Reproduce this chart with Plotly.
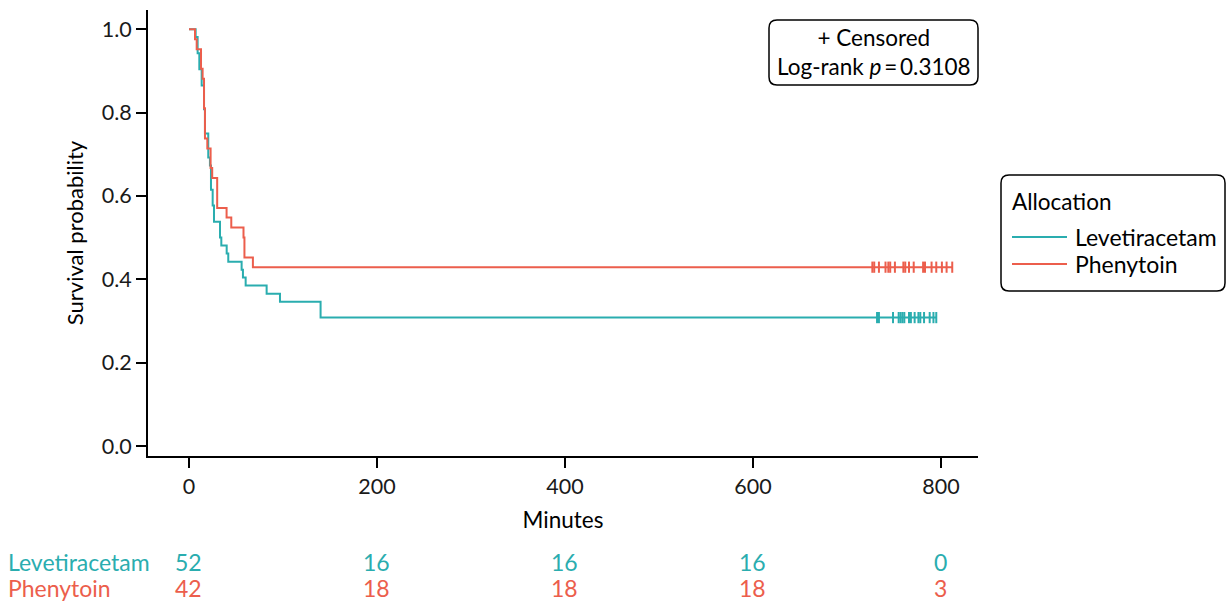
import plotly.graph_objects as go

# ---------------- data ----------------
groups = ["Levetiracetam", "Phenytoin"]
colors = ["#2AADAF", "#EC5E4C"]

lev_time = [0, 7.1, 9.2, 11.0, 13.5, 16.0, 17.0, 20.5, 22.3, 23.4, 25.2, 26.6, 33.0,
            34.4, 40.1, 41.8, 56.0, 57.4, 60.3, 82.6, 96.8, 140.0]
lev_surv = [1.0, 0.981, 0.942, 0.904, 0.865, 0.808, 0.750, 0.692, 0.673, 0.615, 0.577,
            0.538, 0.500, 0.481, 0.462, 0.442, 0.423, 0.404, 0.385, 0.365, 0.346, 0.308]
lev_cens = [732, 734, 749, 755, 757, 759, 761, 766, 768, 772, 776, 778, 782, 788, 792, 795]

phe_time = [0, 6.4, 8.2, 12.8, 14.5, 16.0, 17.0, 19.5, 23.0, 24.7, 30.0, 40.0, 45.0,
            58.0, 59.0, 68.0]
phe_surv = [1.0, 0.976, 0.952, 0.905, 0.881, 0.810, 0.738, 0.714, 0.667, 0.643, 0.571,
            0.548, 0.524, 0.500, 0.452, 0.429]
phe_cens = [727, 729, 734, 741, 744, 746, 751, 760, 762, 766, 771, 781, 783, 790, 795,
            801, 806, 812]

risk_times = [0, 200, 400, 600, 800]
lev_risk = [52, 16, 16, 16, 0]
phe_risk = [42, 18, 18, 18, 3]

x_ticks = [0, 200, 400, 600, 800]
y_ticks = [0.0, 0.2, 0.4, 0.6, 0.8, 1.0]
y_ticklabels = ["0.0", "0.2", "0.4", "0.6", "0.8", "1.0"]

# ---------------- layout geometry (pixels) ----------------
W, H = 1227, 601
ML, MR, MT, MB = 148, 249, 10, 145
PW = W - ML - MR
PH = H - MT - MB
FONT = "Lato, 'Open Sans', sans-serif"


def px2x(px):
    return (px - ML) / PW


def px2y(py):
    return (H - MB - py) / PH


def rounded_rect(x0, y0, x1, y1, r):
    # pixel coordinates -> paper path with rounded corners
    X0, X1 = px2x(x0), px2x(x1)
    Y0, Y1 = px2y(y0), px2y(y1)  # Y0 top, Y1 bottom
    rx, ry = r / PW, r / PH
    return (f"M{X0+rx},{Y0} L{X1-rx},{Y0} Q{X1},{Y0} {X1},{Y0-ry} "
            f"L{X1},{Y1+ry} Q{X1},{Y1} {X1-rx},{Y1} L{X0+rx},{Y1} "
            f"Q{X0},{Y1} {X0},{Y1+ry} L{X0},{Y0-ry} Q{X0},{Y0} {X0+rx},{Y0} Z")


fig = go.Figure()

series = [
    (lev_time, lev_surv, lev_cens),
    (phe_time, phe_surv, phe_cens),
]
for name, col, (t, s, c) in zip(groups, colors, series):
    fig.add_trace(go.Scatter(
        x=t + [max(c)], y=s + [s[-1]], mode="lines", name=name,
        line=dict(color=col, width=2, shape="hv"), showlegend=False))
    fig.add_trace(go.Scatter(
        x=c, y=[s[-1]] * len(c), mode="markers", name=name + " censored",
        marker=dict(symbol="line-ns", size=8, line=dict(color=col, width=2)),
        showlegend=False))

annotations = []
shapes = []

# censored / log-rank box
shapes.append(dict(type="path", xref="paper", yref="paper",
                   path=rounded_rect(769, 20, 978, 85, 8),
                   line=dict(color="black", width=1.5), fillcolor="white"))
annotations.append(dict(xref="paper", yref="paper", x=px2x(873.5), y=px2y(52),
                        text="+ Censored<br>Log-rank <i>p</i>\u2009=\u20090.3108",
                        showarrow=False, align="center", xanchor="center", yanchor="middle",
                        font=dict(family=FONT, size=22.5, color="black")))

# legend box (manual)
shapes.append(dict(type="path", xref="paper", yref="paper",
                   path=rounded_rect(1001, 175, 1225, 291, 8),
                   line=dict(color="black", width=1.5), fillcolor="white"))
annotations.append(dict(xref="paper", yref="paper", x=px2x(1010), y=px2y(201),
                        text="Allocation", showarrow=False, xanchor="left", yanchor="middle",
                        font=dict(family=FONT, size=22.5, color="black")))
for i, (name, col) in enumerate(zip(groups, colors)):
    yy = 237 + 27 * i
    shapes.append(dict(type="line", xref="paper", yref="paper",
                       x0=px2x(1012), x1=px2x(1067), y0=px2y(yy), y1=px2y(yy),
                       line=dict(color=col, width=2)))
    annotations.append(dict(xref="paper", yref="paper", x=px2x(1073), y=px2y(yy),
                            text=name, showarrow=False, xanchor="left", yanchor="middle",
                            font=dict(family=FONT, size=23, color="black")))

# at-risk table
for i, (name, col, risk) in enumerate(zip(groups, colors, [lev_risk, phe_risk])):
    yy = 562 + 26 * i
    annotations.append(dict(xref="paper", yref="paper", x=px2x(6), y=px2y(yy),
                            text=name, showarrow=False, xanchor="left", yanchor="middle",
                            font=dict(family=FONT, size=23, color=col)))
    for t, n in zip(risk_times, risk):
        annotations.append(dict(xref="x", yref="paper", x=t, y=px2y(yy),
                                text=str(n), showarrow=False, xanchor="center",
                                yanchor="middle",
                                font=dict(family=FONT, size=23, color=col)))

fig.update_layout(
    width=W, height=H,
    margin=dict(l=ML, r=MR, t=MT, b=MB, autoexpand=False),
    paper_bgcolor="white", plot_bgcolor="white",
    font=dict(family=FONT, size=21, color="black"),
    shapes=shapes, annotations=annotations,
    showlegend=False,
)
fig.update_xaxes(
    range=[-43.6, 839.4], tickvals=x_ticks, ticktext=[str(v) for v in x_ticks],
    showline=True, linecolor="black", linewidth=2, ticks="outside", ticklen=10,
    tickwidth=2, tickcolor="black", showgrid=False, zeroline=False,
    tickfont=dict(family=FONT, size=21.5, color="#1a1a1a"),
    title=dict(text="Minutes", font=dict(family=FONT, size=22.5, color="black"), standoff=14),
)
fig.update_yaxes(
    range=[-0.024, 1.046], tickvals=y_ticks, ticktext=y_ticklabels,
    showline=True, linecolor="black", linewidth=2, ticks="outside", ticklen=10,
    tickwidth=2, tickcolor="black", showgrid=False, zeroline=False,
    tickfont=dict(family=FONT, size=21.5, color="#1a1a1a"),
    title=dict(text="Survival probability", font=dict(family=FONT, size=22, color="black"),
               standoff=12),
)

fig.write_html("out.html", config={"displayModeBar": False},
               post_script="document.body.style.margin='0px';")
